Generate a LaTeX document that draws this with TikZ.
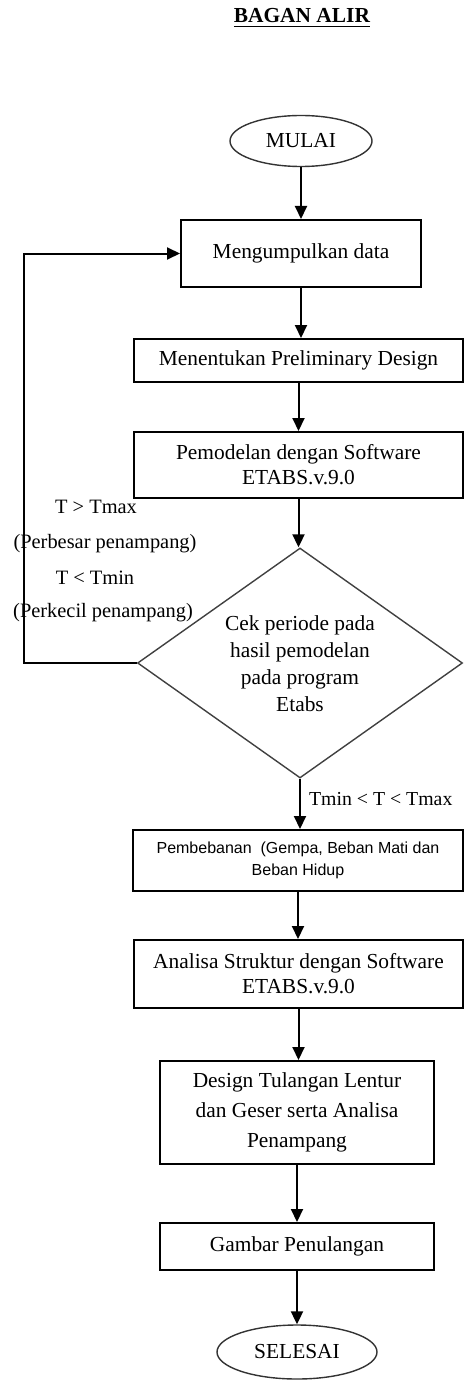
\documentclass[tikz,border=0pt]{standalone}
\usepackage{fontspec}
\setmainfont{Liberation Serif}
\newfontfamily\boxsans{Liberation Sans}
\usetikzlibrary{arrows.meta, shapes.geometric}

\begin{document}
\begin{tikzpicture}
	[x=0.5pt, y=-0.5pt,
	 font=\fontsize{10.7}{13.5}\selectfont,
	 proses/.style={draw, line width=1pt, align=center, inner sep=2pt},
	 terminal/.style={draw=black!80, ellipse, line width=0.7pt, inner sep=0pt},
	 syarat/.style={font=\fontsize{10.2}{12}\selectfont},
	 panah/.style={-{Triangle[width=6pt,length=6.5pt]}, line width=1pt}]
	\useasboundingbox (0,0) rectangle (464,1380);

	\node (judul) at (302,18) {\underline{\textbf{BAGAN ALIR}}};
	\node[terminal, minimum width=71pt, minimum height=25.5pt] (mulai) at (301,141) {MULAI};
	\node[proses, minimum width=120pt, minimum height=33.5pt] (kumpul) at (301,253.5) {Mengumpulkan data};
	\node[proses, minimum width=164.5pt, minimum height=21.5pt] (prelim) at (298.5,360.5) {Menentukan Preliminary Design};
	\node[proses, minimum width=164.5pt, minimum height=33pt, font=\fontsize{10.7}{12.5}\selectfont] (model) at (298.5,465) {Pemodelan dengan Software\\ETABS.v.9.0};
	\node[draw=black!75, diamond, line width=0.7pt, inner sep=0pt, minimum width=162.5pt, minimum height=115pt] (cek) at (300,663) {};
	\node[align=center] (cekteks) at (300,664) {Cek periode pada\\hasil pemodelan\\pada program\\Etabs};
	\node[proses, minimum width=165pt, minimum height=30.5pt, font=\boxsans\fontsize{8}{11}\selectfont] (beban) at (298,860.5) {Pembebanan \ (Gempa, Beban Mati dan\\Beban Hidup};
	\node[proses, minimum width=164.5pt, minimum height=34pt, font=\fontsize{10.7}{12.5}\selectfont] (analisa) at (298.5,974) {Analisa Struktur dengan Software\\ETABS.v.9.0};
	\node[proses, minimum width=137pt, minimum height=51.5pt, font=\fontsize{10.7}{15}\selectfont] (desain) at (297,1112.5) {Design Tulangan Lentur\\dan Geser serta Analisa\\Penampang};
	\node[proses, minimum width=137pt, minimum height=23.5pt] (gambar) at (297,1246.5) {Gambar Penulangan};
	\node[terminal, minimum width=80pt, minimum height=27pt] (selesai) at (297,1352) {SELESAI};

	% label syarat periode
	\node[syarat] (lebih) at (96,507) {T > Tmax};
	\node[syarat] (perbesar) at (105,544) {(Perbesar penampang)};
	\node[syarat] (kurang) at (95,578) {T < Tmin};
	\node[syarat] (perkecil) at (103,613) {(Perkecil penampang)};
	\node[syarat, anchor=west, font=\fontsize{9.9}{11}\selectfont] (aman) at (302,799) {Tmin < T < Tmax};

	\foreach \dari/\ke in {mulai/kumpul,kumpul/prelim,prelim/model,model/cek,cek/beban,beban/analisa,analisa/desain,desain/gambar,gambar/selesai}
	\draw [panah] (\dari.south) -- (\dari.south |- \ke.north);

	% kembali ke pengumpulan data
	\coordinate (balik) at (24,663);
	\draw [panah] (cek.west) -- (balik) |- (kumpul.west);
\end{tikzpicture}
\end{document}
